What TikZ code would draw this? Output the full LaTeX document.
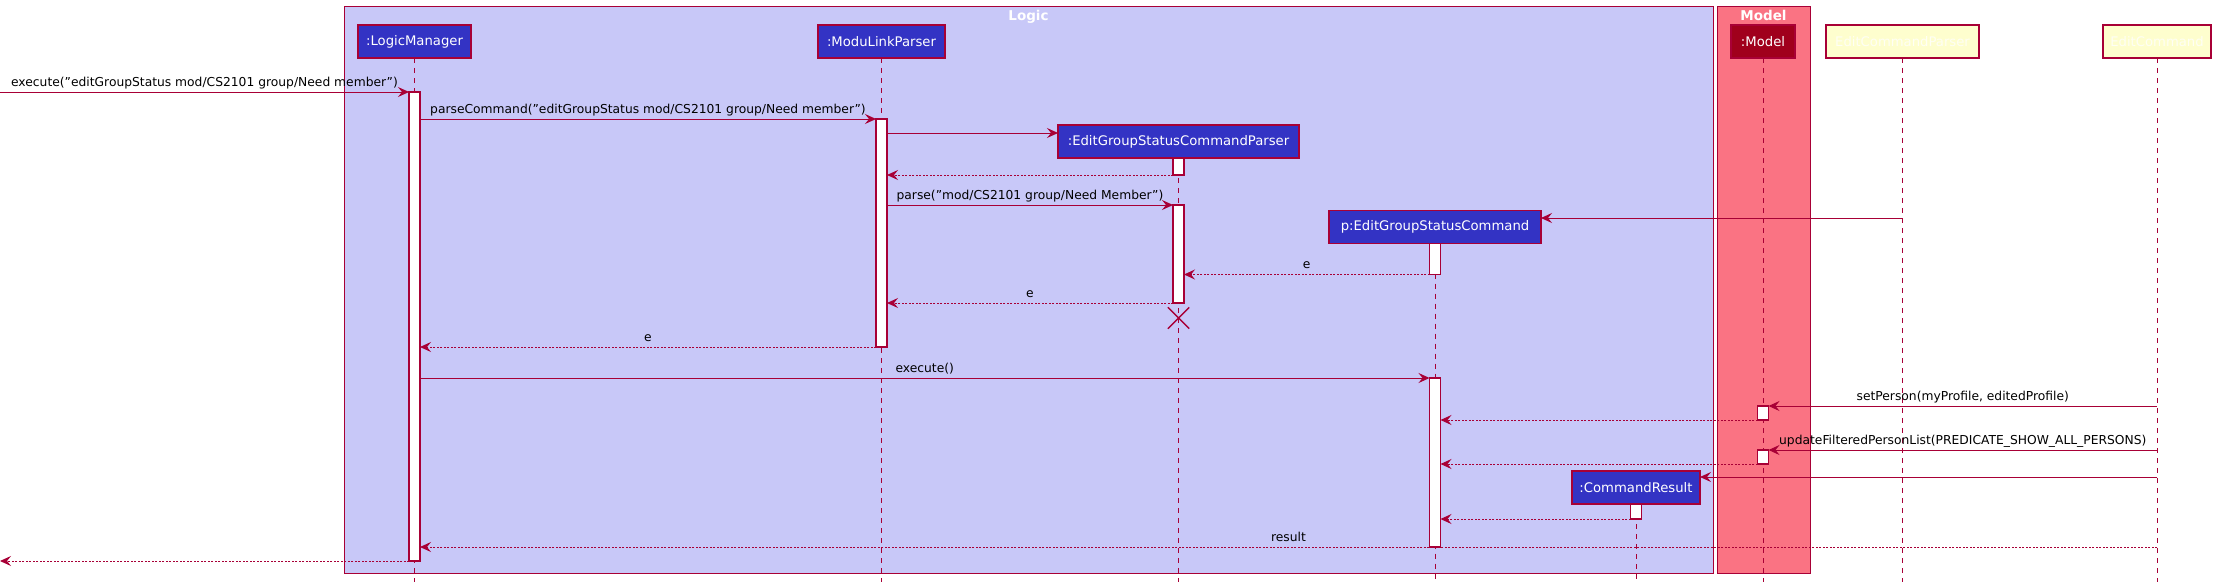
\documentclass[tikz,border=0pt]{standalone}
\usepackage{fontspec}
\setmainfont{DejaVu Sans}
\usetikzlibrary{arrows.meta,shapes.misc}
\definecolor{crim}{HTML}{A80036}
\definecolor{logicbg}{RGB}{200,200,248}
\definecolor{modelbg}{RGB}{250,115,131}
\definecolor{pblue}{RGB}{51,51,196}
\definecolor{mred}{RGB}{160,0,28}
\definecolor{ylw}{HTML}{FEFECE}
\definecolor{ylwtext}{HTML}{FFFFF4}
\newcommand\labfont{\fontsize{12.3}{14}\selectfont}
\newcommand\partfont{\fontsize{13.2}{15}\selectfont}
\newcommand\titfont{\fontsize{13.5}{15}\selectfont\bfseries}
\begin{document}
\begin{tikzpicture}[x=1pt,y=-1pt,
  frame/.style={draw=crim, line width=1pt, anchor=north west, inner sep=0pt, outer sep=0pt},
  ftitle/.style={text=white, font=\titfont, anchor=north, inner sep=0pt},
  part/.style={draw=crim, line width=1.2pt, fill=pblue, text=white, minimum height=33pt, inner xsep=6pt, outer sep=0pt, font=\partfont},
  act/.style={draw=crim, line width=1.1pt, fill=white, minimum width=11pt, inner sep=0pt, outer sep=0pt, anchor=north},
  life/.style={draw=crim, line width=0.9pt, dash pattern=on 5pt off 5pt},
  msg/.style={draw=crim, line width=1pt, -{Stealth[length=11pt,width=10pt,inset=4pt]}},
  ret/.style={msg, dash pattern=on 2pt off 1.5pt},
  lab/.style={font=\labfont, text=black, inner sep=0pt, anchor=base, yshift=6pt}]
\useasboundingbox (0,0) rectangle (2218,586);
% frames
\node[frame, fill=logicbg, minimum width=1369pt, minimum height=566pt] (logic) at (344,7) {};
\node[frame, fill=modelbg, minimum width=93pt, minimum height=566pt] (model) at (1717,7) {};
\node[ftitle] (logicT) at ([yshift=-3pt]logic.north) {Logic};
\node[ftitle] (modelT) at ([yshift=-3pt]model.north) {Model};
% participants
\node[part, minimum width=113pt] (LM) at (414.5,41.5) {:LogicManager};
\node[part, minimum width=127pt] (MLP) at (881.5,41.5) {:ModuLinkParser};
\node[part, minimum width=241pt] (EP) at (1178.5,141.5) {:EditGroupStatusCommandParser};
\node[part, minimum width=212pt] (EC) at (1435,227) {p:EditGroupStatusCommand};
\node[part, minimum width=128pt] (CR) at (1636,487.5) {:CommandResult};
\node[part, minimum width=64pt, fill=mred] (MD) at (1763,41.5) {:Model};
\node[part, minimum width=153pt, fill=ylw, text=ylwtext] (Y1) at (1902.5,41.5) {EditCommandParser};
\node[part, minimum width=108pt, fill=ylw, text=ylwtext] (Y2) at (2157,41.5) {EditCommand};
% bottom and free ends
\coordinate (bot) at (0,582);
\coordinate (inL) at (0,92);
\coordinate (outL) at (0,561);
% lifelines
\foreach \p in {LM,MLP,EP,EC,CR,MD,Y1,Y2}{\draw[life] (\p.south) -- (\p.south |- bot);}
% activations
\node[act, minimum height=469pt] (aLM) at (414.5,92) {};
\node[act, minimum height=228pt] (aMLP) at (881.5,119) {};
\node[act, minimum height=17pt] (aEP1) at (EP.south) {};
\node[act, minimum height=98pt] (aEP2) at (1178.5,205) {};
\node[act, minimum height=31pt] (aEC1) at (EC.south) {};
\node[act, minimum height=169pt] (aEC2) at (1435,378) {};
\node[act, minimum height=14pt] (aMD1) at (1763,406) {};
\node[act, minimum height=14pt] (aMD2) at (1763,450) {};
\node[act, minimum height=15pt] (aCR) at (CR.south) {};
% rows
\coordinate (r3) at (0,133);
\coordinate (r6) at (0,218);
\coordinate (r16) at (0,477);
\coordinate (r18) at (0,547);
% messages
\draw[msg] (inL) -- node[lab] {execute("editGroupStatus mod/CS2101 group/Need member")} (aLM.north west);
\draw[msg] (aLM.east |- aMLP.north) -- node[lab] {parseCommand("editGroupStatus mod/CS2101 group/Need member")} (aMLP.north west);
\draw[msg] (aMLP.east |- r3) -- (EP.west |- r3);
\draw[ret] (aEP1.south west) -- (aMLP.east |- aEP1.south);
\draw[msg] (aMLP.east |- aEP2.north) -- node[lab] {parse("mod/CS2101 group/Need Member")} (aEP2.north west);
\draw[msg] (Y1.south |- r6) -- (EC.east |- r6);
\draw[ret] (aEC1.south west) -- node[lab] {e} (aEP2.east |- aEC1.south);
\draw[ret] (aEP2.south west) -- node[lab] {e} (aMLP.east |- aEP2.south);
\node[draw=crim, cross out, line width=1.4pt, minimum size=20pt, inner sep=0pt] (xEP) at (1178.5,318) {};
\draw[ret] (aMLP.south west) -- node[lab] {e} (aLM.east |- aMLP.south);
\draw[msg] (aLM.east |- aEC2.north) -- node[lab] {execute()} (aEC2.north west);
\draw[msg] (Y2.south |- aMD1.north) -- node[lab] {setPerson(myProfile, editedProfile)} (aMD1.north east);
\draw[ret] (aMD1.south west) -- (aEC2.east |- aMD1.south);
\draw[msg] (Y2.south |- aMD2.north) -- node[lab] {updateFilteredPersonList(PREDICATE\_SHOW\_ALL\_PERSONS)} (aMD2.north east);
\draw[ret] (aMD2.south west) -- (aEC2.east |- aMD2.south);
\draw[msg] (Y2.south |- r16) -- (CR.east |- r16);
\draw[ret] (aCR.south west) -- (aEC2.east |- aCR.south);
\draw[ret] (Y2.south |- r18) -- node[lab] {result} (aLM.east |- r18);
\draw[ret] (aLM.south west) -- (outL);
\end{tikzpicture}
\end{document}
